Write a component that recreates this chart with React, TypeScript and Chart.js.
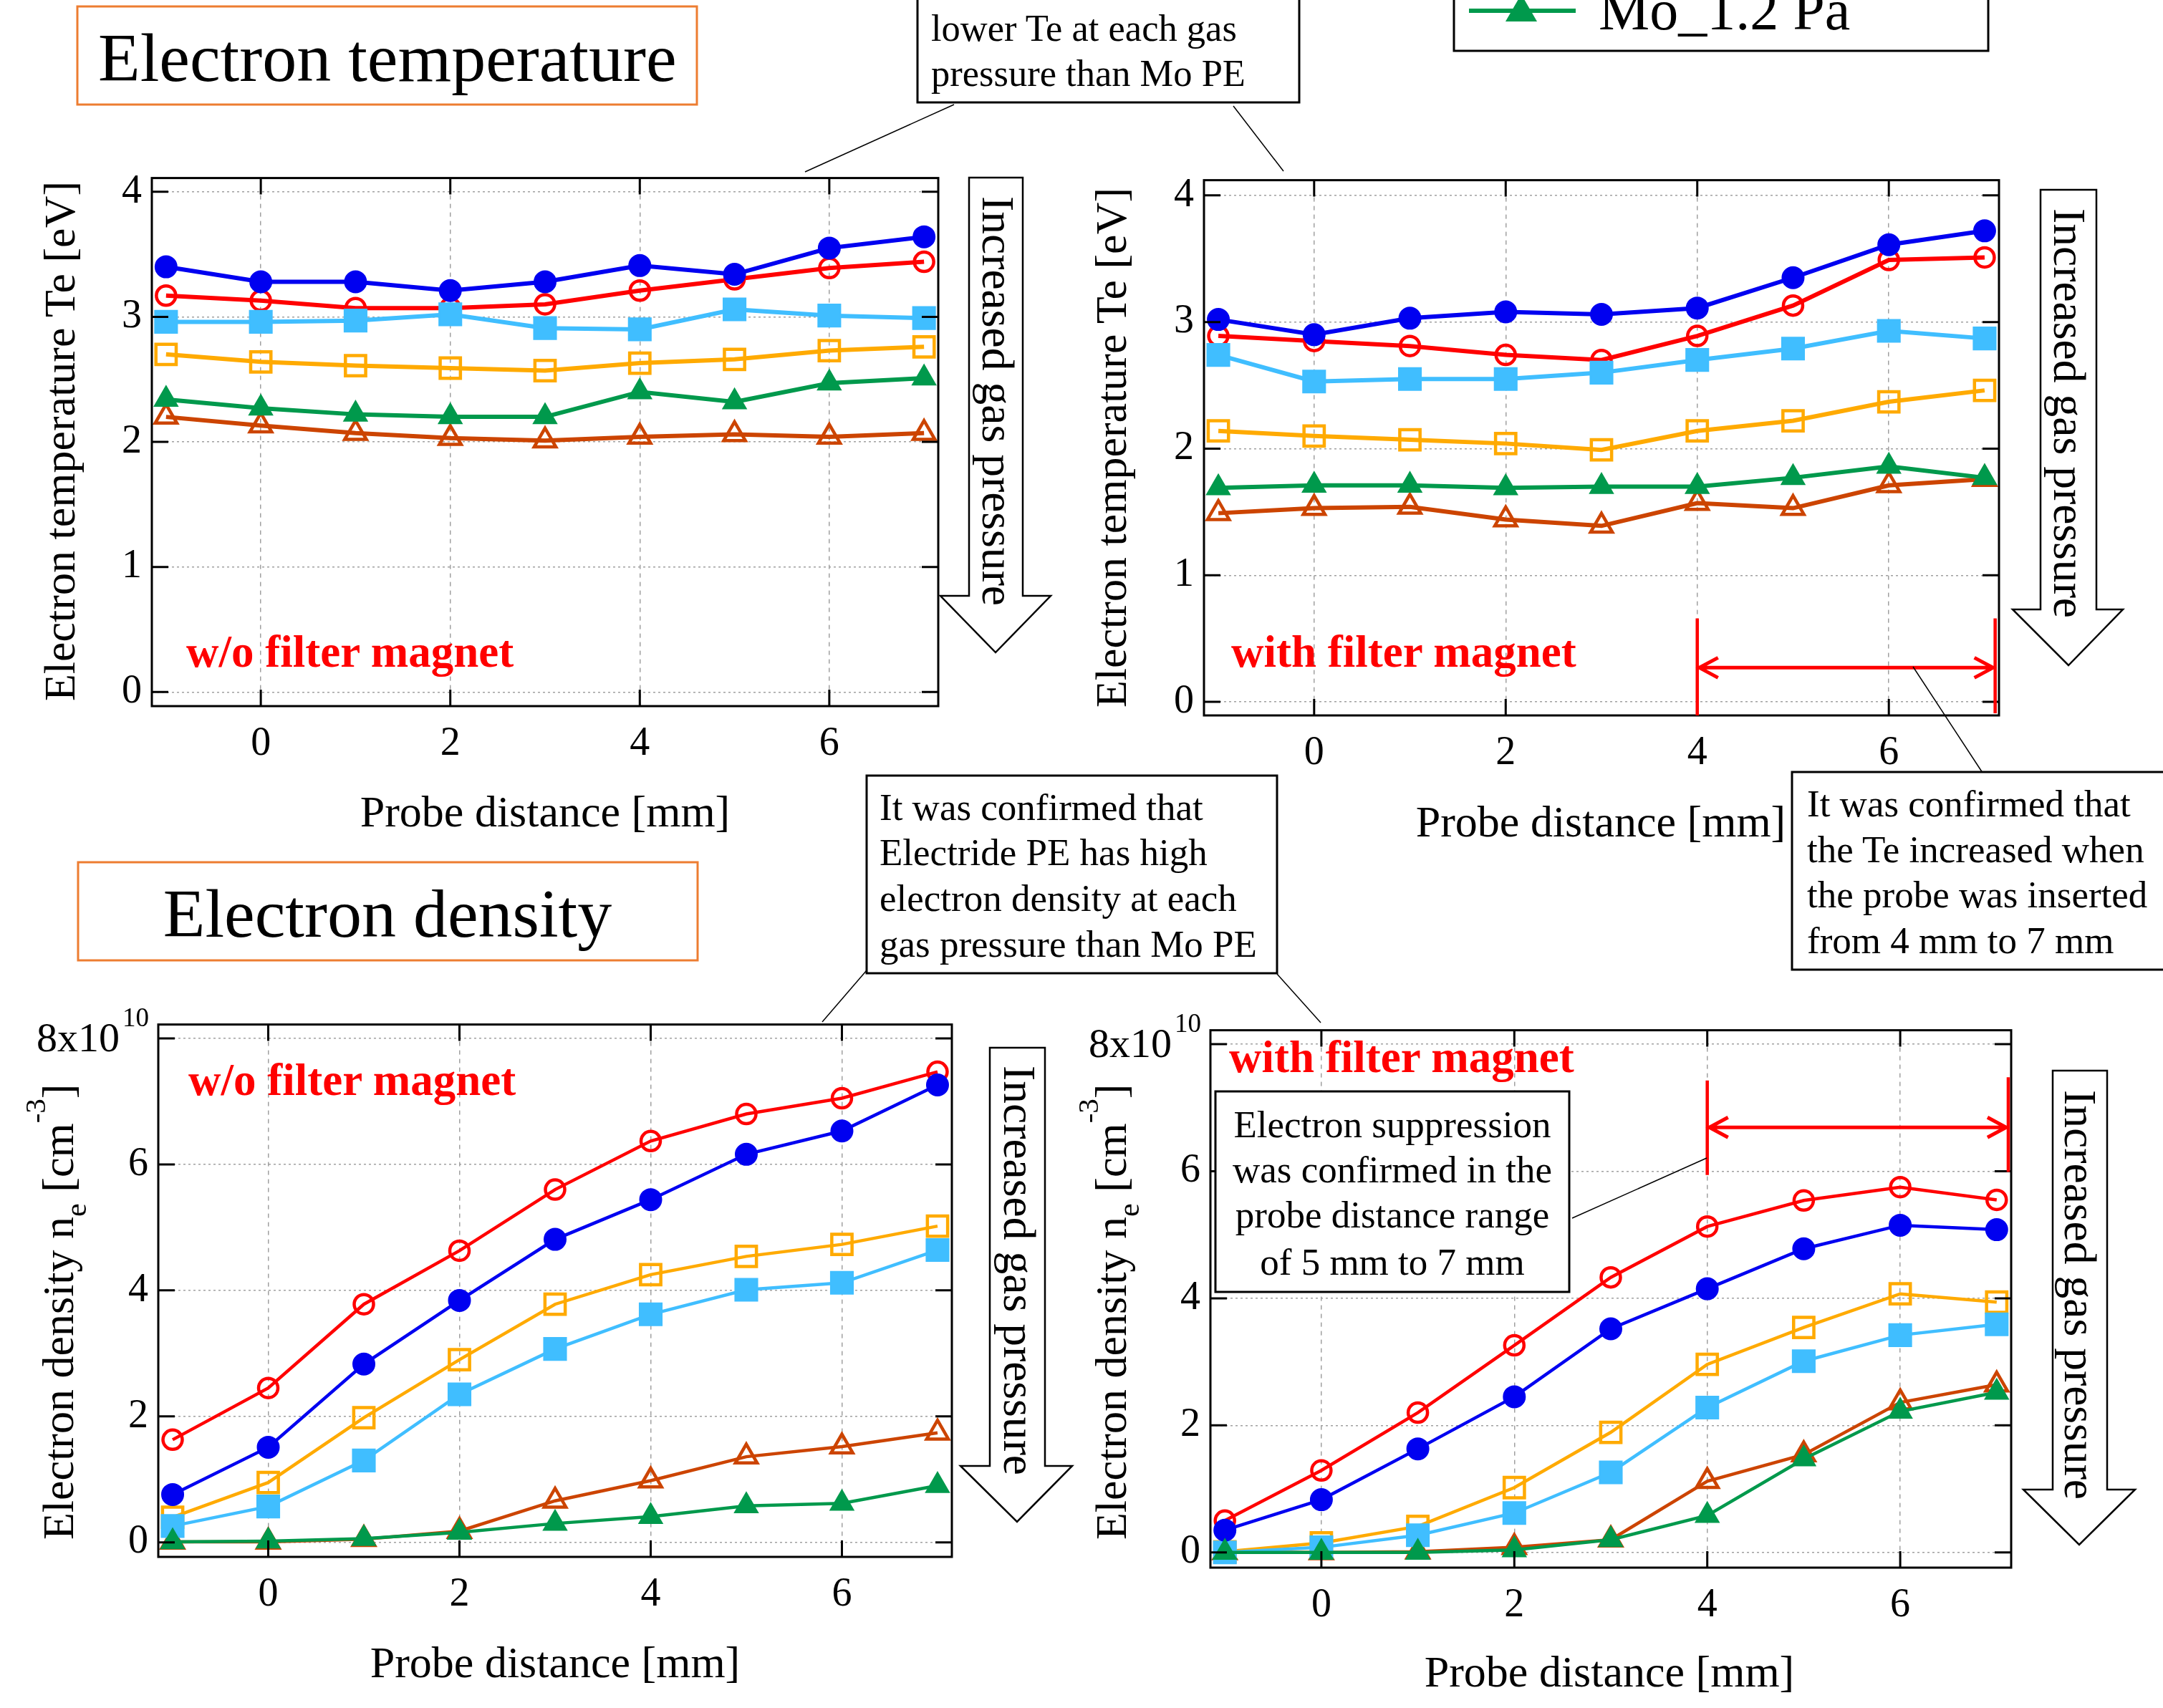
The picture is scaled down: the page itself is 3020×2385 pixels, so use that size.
import React, { useEffect, useRef } from 'react';
import { Chart, registerables } from 'chart.js';

Chart.register(...registerables);

const FONT = '"Liberation Serif", "Times New Roman", Times, serif';

// ---------------- data ----------------
const probeDistance = [-1, 0, 1, 2, 3, 4, 5, 6, 7];
const distanceTicks = [0, 2, 4, 6];
const teTicks = [0, 1, 2, 3, 4];
const neTicks = [0, 2, 4, 6, 8];

// Electron temperature [eV], w/o filter magnet
const teOff_moLow = [3.40, 3.28, 3.28, 3.21, 3.28, 3.41, 3.34, 3.55, 3.64];
const teOff_elLow = [3.17, 3.13, 3.07, 3.07, 3.10, 3.21, 3.30, 3.39, 3.44];
const teOff_moMid = [2.96, 2.96, 2.97, 3.02, 2.91, 2.90, 3.06, 3.01, 2.99];
const teOff_elMid = [2.70, 2.64, 2.61, 2.59, 2.57, 2.63, 2.66, 2.73, 2.76];
const teOff_moHigh = [2.34, 2.27, 2.22, 2.20, 2.20, 2.40, 2.32, 2.47, 2.51];
const teOff_elHigh = [2.20, 2.13, 2.07, 2.03, 2.01, 2.04, 2.06, 2.04, 2.07];

// Electron temperature [eV], with filter magnet
const teOn_moLow = [3.02, 2.90, 3.03, 3.08, 3.06, 3.11, 3.35, 3.61, 3.72];
const teOn_elLow = [2.89, 2.85, 2.81, 2.74, 2.70, 2.89, 3.13, 3.49, 3.51];
const teOn_moMid = [2.74, 2.53, 2.55, 2.55, 2.60, 2.70, 2.79, 2.93, 2.87];
const teOn_elMid = [2.14, 2.10, 2.07, 2.04, 1.99, 2.14, 2.22, 2.37, 2.46];
const teOn_moHigh = [1.69, 1.71, 1.71, 1.69, 1.70, 1.70, 1.77, 1.86, 1.77];
const teOn_elHigh = [1.49, 1.53, 1.54, 1.44, 1.39, 1.57, 1.53, 1.71, 1.76];

// Electron density [x10^10 cm^-3], w/o filter magnet
const neOff_moLow = [0.76, 1.51, 2.83, 3.84, 4.81, 5.44, 6.16, 6.53, 7.26];
const neOff_elLow = [1.63, 2.45, 3.78, 4.63, 5.60, 6.37, 6.80, 7.05, 7.47];
const neOff_moMid = [0.26, 0.57, 1.30, 2.35, 3.07, 3.62, 4.01, 4.12, 4.64];
const neOff_elMid = [0.40, 0.95, 1.98, 2.90, 3.78, 4.25, 4.54, 4.73, 5.02];
const neOff_moHigh = [0.01, 0.02, 0.06, 0.16, 0.30, 0.41, 0.58, 0.62, 0.90];
const neOff_elHigh = [0.01, 0.01, 0.05, 0.18, 0.66, 0.98, 1.36, 1.52, 1.74];

// Electron density [x10^10 cm^-3], with filter magnet
const neOn_moLow = [0.35, 0.83, 1.63, 2.45, 3.52, 4.15, 4.78, 5.15, 5.08];
const neOn_elLow = [0.50, 1.29, 2.20, 3.26, 4.33, 5.13, 5.54, 5.75, 5.55];
const neOn_moMid = [0.0, 0.08, 0.27, 0.62, 1.26, 2.28, 3.01, 3.42, 3.59];
const neOn_elMid = [0.01, 0.15, 0.41, 1.02, 1.89, 2.96, 3.54, 4.07, 3.94];
const neOn_moHigh = [0.0, 0.0, 0.0, 0.04, 0.20, 0.58, 1.47, 2.22, 2.52];
const neOn_elHigh = [0.0, 0.0, 0.01, 0.08, 0.20, 1.12, 1.54, 2.36, 2.64];

// ---------------- styles ----------------
type Shape = 'circle' | 'rect' | 'triangle';
interface SeriesStyle { label: string; color: string; shape: Shape; open: boolean; r: number }

const STYLE: Record<string, SeriesStyle> = {
  moHigh: { label: 'Mo_1.2 Pa', color: '#00994C', shape: 'triangle', open: false, r: 18.5 },
  moLow: { label: 'Mo (low pressure)', color: '#0000F0', shape: 'circle', open: false, r: 15 },
  moMid: { label: 'Mo (mid pressure)', color: '#40BEFF', shape: 'rect', open: false, r: 22 },
  elHigh: { label: 'Electride_1.2 Pa', color: '#CC4400', shape: 'triangle', open: true, r: 17.5 },
  elLow: { label: 'Electride (low pressure)', color: '#FF0000', shape: 'circle', open: true, r: 13.5 },
  elMid: { label: 'Electride (mid pressure)', color: '#FFAA00', shape: 'rect', open: true, r: 20 },
};

interface RangeArrow { x1: number; x2: number; yArrow: number; top1: number; bot1: number; top2: number; bot2: number }

interface PanelProps {
  L: number; T: number; R: number; B: number; wy: number;
  yMin: number; yMax: number; yTicks: number[];
  series: [string, number[]][];
  lineWidth: number;
  expLabel?: boolean;
  range?: RangeArrow;
}

const PAD = 40;
const HX = 90;

function Panel(p: PanelProps) {
  const ref = useRef<HTMLCanvasElement>(null);
  const cw = p.R - p.L + p.wy + PAD;
  const ch = p.B - p.T + PAD + HX;

  useEffect(() => {
    if (!ref.current) return;
    const framePlugin = {
      id: 'frameTicks',
      afterDraw(chart: any) {
        const { ctx, chartArea: a, scales } = chart;
        const xs = scales.x, ys = scales.y;
        ctx.save();
        ctx.strokeStyle = '#000';
        ctx.lineWidth = 3;
        ctx.strokeRect(a.left, a.top, a.right - a.left, a.bottom - a.top);
        const tl = 23;
        ctx.beginPath();
        distanceTicks.forEach((v) => {
          const px = xs.getPixelForValue(v);
          ctx.moveTo(px, a.bottom); ctx.lineTo(px, a.bottom - tl);
          ctx.moveTo(px, a.top); ctx.lineTo(px, a.top + tl);
        });
        p.yTicks.forEach((v) => {
          const py = ys.getPixelForValue(v);
          ctx.moveTo(a.left, py); ctx.lineTo(a.left + tl, py);
          ctx.moveTo(a.right, py); ctx.lineTo(a.right - tl, py);
        });
        ctx.stroke();

        if (p.range) {
          const r = p.range;
          const X1 = xs.getPixelForValue(r.x1), X2 = xs.getPixelForValue(r.x2);
          const Y = ys.getPixelForValue(r.yArrow);
          ctx.strokeStyle = '#FF0000';
          ctx.lineWidth = 4.5;
          ctx.beginPath();
          ctx.moveTo(X1, ys.getPixelForValue(r.top1)); ctx.lineTo(X1, ys.getPixelForValue(r.bot1));
          ctx.moveTo(X2, ys.getPixelForValue(r.top2)); ctx.lineTo(X2, ys.getPixelForValue(r.bot2));
          ctx.stroke();
          ctx.lineWidth = 5;
          ctx.beginPath();
          ctx.moveTo(X1 + 2, Y); ctx.lineTo(X2 - 2, Y);
          ctx.moveTo(X1 + 29, Y - 14); ctx.lineTo(X1 + 3, Y); ctx.lineTo(X1 + 29, Y + 14);
          ctx.moveTo(X2 - 29, Y - 14); ctx.lineTo(X2 - 3, Y); ctx.lineTo(X2 - 29, Y + 14);
          ctx.stroke();
        }

        if (p.expLabel) {
          const py = ys.getPixelForValue(8);
          ctx.fillStyle = '#000';
          ctx.font = `58px ${FONT}`;
          ctx.textAlign = 'right';
          ctx.textBaseline = 'middle';
          ctx.fillText('8x10', a.left - 54, py + 3);
          ctx.font = `37px ${FONT}`;
          ctx.textAlign = 'left';
          ctx.textBaseline = 'alphabetic';
          ctx.fillText('10', a.left - 50, py - 17);
        }
        ctx.restore();
      },
    };

    const datasets = p.series.map(([key, values]) => {
      const s = STYLE[key];
      return {
        label: s.label,
        data: probeDistance.map((x, i) => ({ x, y: values[i] })),
        borderColor: s.color,
        borderWidth: p.lineWidth,
        pointStyle: s.shape,
        pointRadius: s.r,
        pointBorderWidth: s.open ? 4.5 : 2,
        pointBorderColor: s.color,
        pointBackgroundColor: s.open ? 'rgba(0,0,0,0)' : s.color,
        fill: false,
        tension: 0,
      };
    });

    const gridCommon = { color: '#a0a0a0', lineWidth: 1.5, drawTicks: false };
    const chart = new Chart(ref.current, {
      type: 'line',
      data: { datasets },
      options: {
        animation: false,
        responsive: false,
        maintainAspectRatio: false,
        devicePixelRatio: 1,
        layout: { padding: { top: PAD, right: PAD, left: 0, bottom: 0 } },
        plugins: { legend: { display: false }, tooltip: { enabled: false } },
        events: [],
        scales: {
          x: {
            type: 'linear',
            bounds: 'data',
            min: -1.15,
            max: 7.15,
            afterBuildTicks: (s: any) => { s.ticks = distanceTicks.map((v) => ({ value: v })); },
            afterFit: (s: any) => { s.height = HX; },
            grid: gridCommon,
            border: { display: false, dash: [6, 6] },
            ticks: {
              font: { family: FONT, size: 56 },
              color: '#000',
              padding: 20,
              maxRotation: 0,
              autoSkip: false,
              callback: (v: any) => String(v),
            },
          },
          y: {
            type: 'linear',
            bounds: 'data',
            min: p.yMin,
            max: p.yMax,
            afterBuildTicks: (s: any) => { s.ticks = p.yTicks.map((v) => ({ value: v })); },
            afterFit: (s: any) => { s.width = p.wy; },
            grid: gridCommon,
            border: { display: false, dash: [3, 4] },
            ticks: {
              font: { family: FONT, size: 56 },
              color: '#000',
              padding: 14,
              autoSkip: false,
              callback: (v: any) => (p.expLabel && v === 8 ? '' : String(v)),
            },
          },
        },
      } as any,
      plugins: [framePlugin],
    } as any);
    return () => chart.destroy();
  }, []);

  return (
    <canvas
      ref={ref}
      width={cw}
      height={ch}
      style={{ position: 'absolute', left: p.L - p.wy, top: p.T - PAD, width: cw, height: ch }}
    />
  );
}

function HollowArrow({ x1, x2, top, sb, h1, h2, tipX, tipY, textX, textY }: any) {
  const pts = `${x1},${top} ${x2},${top} ${x2},${sb} ${h2},${sb} ${tipX},${tipY} ${h1},${sb} ${x1},${sb}`;
  return (
    <g>
      <polygon points={pts} fill="#fff" stroke="#000" strokeWidth={2.5} />
      <text transform={`translate(${textX},${textY}) rotate(90)`} fontSize={63.6}>Increased gas pressure</text>
    </g>
  );
}

function Overlay() {
  const line = (x1: number, y1: number, x2: number, y2: number) => (
    <line x1={x1} y1={y1} x2={x2} y2={y2} stroke="#000" strokeWidth={1.5} />
  );
  return (
    <svg
      width={3020}
      height={2385}
      style={{ position: 'absolute', left: 0, top: 0, pointerEvents: 'none' }}
      fontFamily={FONT}
    >
      {/* section titles */}
      <rect x={108} y={9} width={865} height={137} fill="#fff" stroke="#ED7D31" strokeWidth={3} />
      <text x={137} y={113} fontSize={96}>Electron temperature</text>
      <rect x={109} y={1204} width={865} height={137} fill="#fff" stroke="#ED7D31" strokeWidth={3} />
      <text x={541} y={1308} fontSize={96} textAnchor="middle">Electron density</text>

      {/* partial legend */}
      <rect x={2030} y={-100} width={746} height={171} fill="#fff" stroke="#000" strokeWidth={3} />
      <line x1={2051} y1={15} x2={2200} y2={15} stroke="#00994C" strokeWidth={6} />
      <polygon points="2102,30 2146,30 2124,-8" fill="#00994C" />
      <text x={2232} y={41} fontSize={80}>Mo_1.2 Pa</text>

      {/* connector lines */}
      {line(1332, 146, 1124, 240)}
      {line(1722, 148, 1792, 239)}
      {line(1210, 1355, 1148, 1427)}
      {line(1783, 1360, 1844, 1428)}
      {line(2671, 931, 2768, 1079)}
      {line(2195, 1701, 2383, 1617)}

      {/* annotation boxes */}
      <rect x={1281} y={-100} width={533} height={243} fill="#fff" stroke="#000" strokeWidth={3} />
      <g fontSize={52.5}>
        <text x={1300} y={57}>lower Te at each gas</text>
        <text x={1300} y={120}>pressure than Mo PE</text>
      </g>

      <rect x={1210} y={1083} width={573} height={276} fill="#fff" stroke="#000" strokeWidth={3} />
      <g fontSize={53}>
        <text x={1228} y={1145}>It was confirmed that</text>
        <text x={1228} y={1208}>Electride PE has high</text>
        <text x={1228} y={1272}>electron density at each</text>
        <text x={1228} y={1336}>gas pressure than Mo PE</text>
      </g>

      <rect x={2502} y={1078} width={600} height={276} fill="#fff" stroke="#000" strokeWidth={3} />
      <g fontSize={53}>
        <text x={2523} y={1140}>It was confirmed that</text>
        <text x={2523} y={1204}>the Te increased when</text>
        <text x={2523} y={1267}>the probe was inserted</text>
        <text x={2523} y={1331}>from 4 mm to 7 mm</text>
      </g>

      <rect x={1697} y={1524} width={494} height={280} fill="#fff" stroke="#000" strokeWidth={3} />
      <g fontSize={53} textAnchor="middle">
        <text x={1944} y={1588}>Electron suppression</text>
        <text x={1944} y={1651}>was confirmed in the</text>
        <text x={1944} y={1714}>probe distance range</text>
        <text x={1944} y={1780}>of 5 mm to 7 mm</text>
      </g>

      {/* red condition labels */}
      <g fill="#FF0000" fontWeight="bold" fontSize={63}>
        <text x={260} y={931}>w/o filter magnet</text>
        <text x={1719} y={931}>with filter magnet</text>
        <text x={263} y={1529}>w/o filter magnet</text>
        <text x={1716} y={1497}>with filter magnet</text>
      </g>

      {/* increased gas pressure arrows */}
      <HollowArrow x1={1353} x2={1428} top={248} sb={832} h1={1313} h2={1467} tipX={1390} tipY={911} textX={1372} textY={274} />
      <HollowArrow x1={2849} x2={2927} top={265} sb={851} h1={2810} h2={2964} tipX={2888} tipY={929} textX={2868} textY={291} />
      <HollowArrow x1={1382} x2={1459} top={1463} sb={2047} h1={1341} h2={1497} tipX={1420} tipY={2125} textX={1402} textY={1488} />
      <HollowArrow x1={2866} x2={2942} top={1495} sb={2080} h1={2825} h2={2981} tipX={2903} tipY={2157} textX={2883} textY={1522} />

      {/* axis titles */}
      <g fontSize={62} textAnchor="middle">
        <text x={761} y={1154}>Probe distance [mm]</text>
        <text x={2235} y={1168}>Probe distance [mm]</text>
        <text x={775} y={2342}>Probe distance [mm]</text>
        <text x={2247} y={2355}>Probe distance [mm]</text>
        <text transform="translate(104,616) rotate(-90)">Electron temperature Te [eV]</text>
        <text transform="translate(1572,625) rotate(-90)">Electron temperature Te [eV]</text>
      </g>
      <text transform="translate(102,2150) rotate(-90)" fontSize={62}>
        Electron density n<tspan fontSize={42} dy={18}>e</tspan>
        <tspan dy={-18}>{' [cm'}</tspan>
        <tspan fontSize={41} dy={-39}>-3</tspan>
        <tspan dy={39}>]</tspan>
      </text>
      <text transform="translate(1572,2150) rotate(-90)" fontSize={62}>
        Electron density n<tspan fontSize={42} dy={18}>e</tspan>
        <tspan dy={-18}>{' [cm'}</tspan>
        <tspan fontSize={41} dy={-39}>-3</tspan>
        <tspan dy={39}>]</tspan>
      </text>
    </svg>
  );
}

export default function App() {
  return (
    <div
      style={{
        position: 'absolute', left: 0, top: 0, width: 3020, height: 2385,
        overflow: 'hidden', background: '#fff', fontFamily: FONT,
      }}
    >
      <Panel
        L={212} T={241} R={1310} B={986} wy={120}
        yMin={-0.113} yMax={4.11} yTicks={teTicks} lineWidth={6}
        series={[['moHigh', teOff_moHigh], ['moLow', teOff_moLow], ['moMid', teOff_moMid], ['elHigh', teOff_elHigh], ['elLow', teOff_elLow], ['elMid', teOff_elMid]]}
      />
      <Panel
        L={1681} T={244} R={2791} B={999} wy={120}
        yMin={-0.107} yMax={4.12} yTicks={teTicks} lineWidth={6}
        series={[['moHigh', teOn_moHigh], ['moLow', teOn_moLow], ['moMid', teOn_moMid], ['elHigh', teOn_elHigh], ['elLow', teOn_elLow], ['elMid', teOn_elMid]]}
        range={{ x1: 4, x2: 7.11, yArrow: 0.27, top1: 0.66, bot1: -0.107, top2: 0.66, bot2: -0.09 }}
      />
      <Panel
        L={221} T={1423} R={1329} B={2174} wy={190}
        yMin={-0.23} yMax={8.22} yTicks={neTicks} lineWidth={4.5} expLabel
        series={[['moHigh', neOff_moHigh], ['moLow', neOff_moLow], ['moMid', neOff_moMid], ['elHigh', neOff_elHigh], ['elLow', neOff_elLow], ['elMid', neOff_elMid]]}
      />
      <Panel
        L={1690} T={1431} R={2808} B={2189} wy={190}
        yMin={-0.24} yMax={8.22} yTicks={neTicks} lineWidth={4.5} expLabel
        series={[['moHigh', neOn_moHigh], ['moLow', neOn_moLow], ['moMid', neOn_moMid], ['elHigh', neOn_elHigh], ['elLow', neOn_elLow], ['elMid', neOn_elMid]]}
        range={{ x1: 4, x2: 7.12, yArrow: 6.69, top1: 7.43, bot1: 5.94, top2: 7.48, bot2: 5.99 }}
      />
      <Overlay />
    </div>
  );
}
